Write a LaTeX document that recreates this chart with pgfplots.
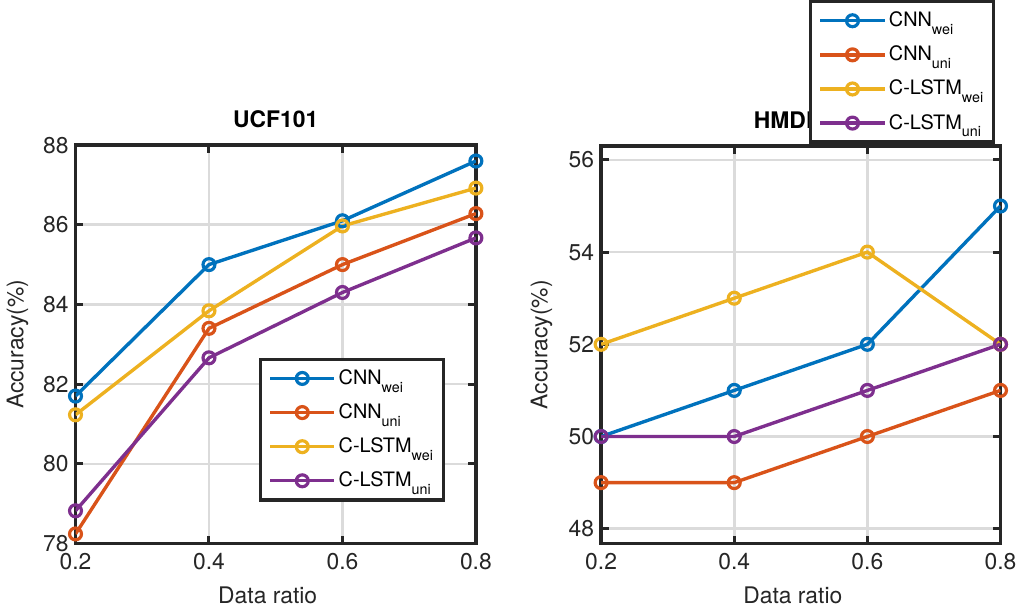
\documentclass[border=0pt]{standalone}
\usepackage{pgfplots}
\pgfplotsset{compat=1.18}
\usepackage{fontspec}
\setmainfont{TeX Gyre Heros}
\definecolor{mblue}{rgb}{0,0.447,0.741}
\definecolor{morange}{rgb}{0.85,0.325,0.098}
\definecolor{myellow}{rgb}{0.929,0.694,0.125}
\definecolor{mpurple}{rgb}{0.494,0.184,0.556}
\definecolor{mframe}{rgb}{0.15,0.15,0.15}
\newcommand{\sub}[1]{\raisebox{-3.9pt}{\fontsize{7.2}{8}\selectfont #1}}
\pgfplotsset{mystyle/.style={
  scale only axis, width=201.5pt, height=200.5pt,
  xmin=0.2, xmax=0.8, xtick={0.2,0.4,0.6,0.8},
  grid=major, grid style={black!14, line width=1.3pt},
  axis line style={line width=1.7pt, draw=mframe},
  tick style={line width=1.5pt, draw=mframe},
  tick align=inside, major tick length=4pt,
  /pgf/number format/assume math mode=true,
  tick label style={font=\fontsize{11.5}{13}\selectfont, text=mframe},
  xticklabel style={yshift=-1.5pt},
  label style={font=\fontsize{11.5}{13}\selectfont, text=mframe},
  title style={font=\bfseries\fontsize{11.5}{13}\selectfont, yshift=-1pt},
  xlabel={Data ratio}, ylabel={Accuracy(\%)},
  xlabel style={at={(axis description cs:0.48,-0.13)}, anchor=center},
  legend cell align=left,
  legend style={draw=mframe, line width=1.7pt, fill=white,
     font=\fontsize{10}{12}\selectfont, row sep=0pt, inner xsep=4pt, inner ysep=1pt,
     nodes={inner ysep=4.1pt, inner xsep=1.25pt}},
  legend image code/.code={\draw[mark repeat=2,mark phase=2] plot coordinates {(0cm,0cm)(0.57cm,0cm)(1.14cm,0cm)};},
  every axis plot/.append style={line width=1.7pt, mark=o, mark size=3pt, mark options={line width=1.6pt, solid}},
}}
\begin{document}
\begin{tikzpicture}
\begin{axis}[mystyle, name=L, title={UCF101},
  ymin=78, ymax=88, ytick={78,80,82,84,86,88},
  ylabel style={at={(axis description cs:-0.145,0.5)}, anchor=center, rotate=0},
  legend style={at={(axis description cs:0.923,0.4663)}, anchor=north east}]
\addplot[color=mblue] coordinates {(0.2,81.7) (0.4,85.0) (0.6,86.1) (0.8,87.6)};
\addplot[color=morange] coordinates {(0.2,78.24) (0.4,83.4) (0.6,85.0) (0.8,86.28)};
\addplot[color=myellow] coordinates {(0.2,81.23) (0.4,83.84) (0.6,85.97) (0.8,86.92)};
\addplot[color=mpurple] coordinates {(0.2,78.82) (0.4,82.66) (0.6,84.3) (0.8,85.67)};
\legend{CNN\sub{wei},CNN\sub{uni},C-LSTM\sub{wei},C-LSTM\sub{uni}}
\end{axis}
\begin{axis}[mystyle, name=R, at={(264.5pt,0pt)}, width=201pt, height=200pt, title={HMDB51},
  ymin=47.68, ymax=56.3, ytick={48,50,52,54,56},
  ylabel style={at={(axis description cs:-0.149,0.5)}, anchor=center, rotate=0},
  legend style={at={(axis description cs:0.987,1.3675)}, anchor=north east}]
\addplot[color=mblue] coordinates {(0.2,50) (0.4,51) (0.6,52) (0.8,55)};
\addplot[color=morange] coordinates {(0.2,49) (0.4,49) (0.6,50) (0.8,51)};
\addplot[color=myellow] coordinates {(0.2,52) (0.4,53) (0.6,54) (0.8,52)};
\addplot[color=mpurple] coordinates {(0.2,50) (0.4,50) (0.6,51) (0.8,52)};
\legend{CNN\sub{wei},CNN\sub{uni},C-LSTM\sub{wei},C-LSTM\sub{uni}}
\end{axis}
\path (L.south west) ++ (-37pt,-34pt);
\path (L.south west) ++ (474.5pt,273.5pt);
\end{tikzpicture}
\end{document}
